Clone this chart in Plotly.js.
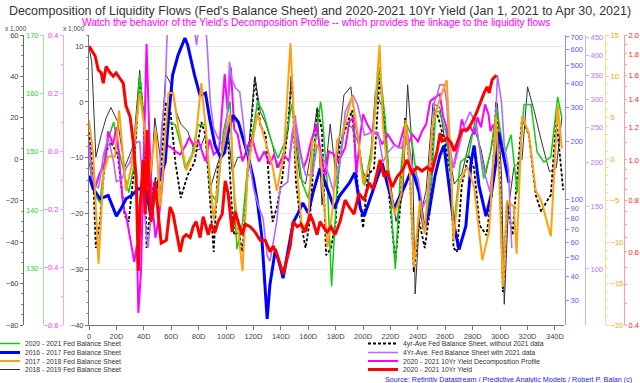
<!DOCTYPE html>
<html><head><meta charset="utf-8">
<script src="https://cdn.plot.ly/plotly-3.0.1.min.js"></script>
<style>html,body{margin:0;padding:0;background:#fff}#chart{width:640px;height:383px}</style>
</head><body><div id="chart"></div>
<script>
// ---------- tick labels ----------
const xTickVals = [0,20,40,60,80,100,120,140,160,180,200,220,240,260,280,300,320,340];
const xTickText = ['0','20D','40D','60D','80D','100D','120D','140D','160D','180D','200D','220D','240D','260D','280D','300D','320D','340D'];

// ---------- series: 2020-2021 Fed Balance Sheet (green axis) ----------
const greenDays = [0,4.5,8,12.5,18,21,26,29,32.5,37,41,45,48.6,52,58,63,67,70,75,79.5,85,88.5,93.5,98,103,105,108,112,116,123,127,134,138,143,148,151,155.5,160,165,169,170,174,177,181,187,192,197,201,206,212,216,219,223.5,227,231,235,239,245,250,253,255.5,260.5,264,266,271,277,282,288,293,297.5,303,308,312.5,317.5,322.5,327,332,337,342,345];
const greenVals = [148.2,142.5,141.3,151.1,155.1,151.1,146.0,143.0,147.2,163.3,152.9,137.8,142.0,143.0,155.1,154.6,151.1,147.2,149.4,154.6,154.6,143.0,141.3,153.4,158.6,146.0,133.3,137.8,148.2,158.6,156.9,151.1,148.9,151.7,158.1,152.9,144.7,142.0,151.7,158.6,156.9,144.2,126.9,144.2,155.1,154.1,151.1,144.2,150.3,164.5,155.8,146.0,129.9,145.4,155.1,152.9,146.0,136.8,145.0,156.9,156.9,153.4,146.0,136.8,148.2,149.4,155.8,145.4,149.9,157.5,149.4,152.9,143.0,158.1,158.1,149.9,148.2,149.1,159.4,155.8];

// ---------- series: 2016-2017 Fed Balance Sheet (blue log axis) ----------
const blueDays = [0,3,8,14,20,23.5,27,31,36,42,45,48,52,55.6,58,61,65,70,72,77,81,85,88,92,96,99,101.5,105,109,112,116,120,123,126,128.5,130,132,136,139.5,141.6,145,149,152.6,156,160,163.5,168.6,173.7,179,183,190,194,198,200.7,204,208.7,214,217.5,222.6,226,230.6,235.7,240.8,244.5,248,252.5,256,259,262.7,266.4,270,275,278.8,281,284.6,289.7,293.4,297,299,304,306.5];
const blueVals = [133,114,101,105,82,90,101,105,114,111,82,109,133,156,264,443,563,691,635,443,348,357,264,191,165,176,223,274,252,215,169,128,96,65,36,24,36,55,45,39,53,76,85,96,85,109,145,114,90,105,122,138,90,82,96,122,154,122,90,101,118,145,109,70,85,133,169,191,122,73,55,73,156,191,118,82,105,156,223,150,122];

// ---------- series: 2017-2018 Fed Balance Sheet (orange axis) ----------
const orangeDays = [0,3,7,10.5,14,19,22,25,27,31,37,41,43,48.6,52,58,61.5,65,71,77,82,85,91,96,103,106,112,116,123,127,134,137,142,147,150.5,155.5,160,163,168,170,174,178,181,185,192,196,200,206,212,214.5,219,223,228,231,234,237,241.5,245,250.5,255,261,264,266,270,276,281,287,292,297,299.5,302,305,310,312,316,321,326,330,337,342,345];
const orangeVals = [4.7,0.7,-12.6,-1.7,0.35,0.35,5.9,-0.1,-3.8,-0.9,8.0,3.1,-3.8,3.5,-5.7,8.0,8.0,4.0,-1.35,1.1,9.2,4.0,-7.4,-0.1,5.55,-4.1,-13.5,-0.9,5.55,3.1,-0.9,-3.8,0.35,14.0,1.1,-8.6,-7.4,2.3,1.3,-1.7,-10.6,-5.7,2.3,3.1,7.6,3.1,-2.9,-0.1,13.8,4.0,-2.9,-6.55,-4.1,4.7,-0.9,-13.0,-5.0,-9.0,4.0,6.8,9.55,-0.1,-9.8,-2.9,-0.9,-3.3,-12.2,-8.6,5.2,-2.9,-15.4,-5.0,-5.7,-11.4,5.2,3.1,-3.8,-5.0,-9.3,6.5,1.3];

// ---------- series: 2018-2019 Fed Balance Sheet (black left axis, x 1,000) ----------
const greyDays = [0,2,5,9,12.5,16,21,26,29,32.5,37,41,45,48,52,56,60,63.6,67,72,77,81,85,88.5,93,97,101,104.5,108.6,113,117,121,125,128.5,134,137,141,145.6,147.5,150,154,158,161.3,166.5,170,176,180,186,191,195,200,204,209,214,219,224,229,232.5,236,238,241,246,251,256,259,263,266.5,272,278,281,286,289.5,294,298,301,303,306,310,316,320,325,330,336,341,345];
const greyVals = [54,47,1,12,20,25,18,-4,1,7,43,12,-14,20,1,41,36,23,17,13.5,4,5,12,-14,-4,4,17,-6,1,1,9,40,23,18,7,-4,1,15,40,12,-9,-12,1,25,-22,17,-7,31,35,14.5,-6,-12,33,25,-7,-30,-17,36,4,-65,-30,-15,27,25,12,2,-12,-7,9.6,15,5,-7,7,27,-7,-70,-24,-4,0,35,23,9,-6,-4,20];

// ---------- series: 4yr-Ave Fed Balance Sheet, without 2021 data (main axis, x 1,000) ----------
const avgDays = [0,3,5,8,12,16,21,26,29,32.5,37,40,42,45.6,48.6,52,56,59.5,63,67,72,77,82,85,91,94,99,101,104,106,109,112,116,121,125,129,132,134,137,141,145,148,151,154.5,158,161,166.5,170,173,176.6,180,183,188,192,196,200,203.5,208,212,216,219,223.5,227,230.6,234,237,241,245,249,252,255,260,264,266,268.6,272,277,281,285,290,294,297,300,302,305,309,312.5,316,321,326,330,333.6,337,341,346];
const avgVals = [-5.4,-13.1,-26.2,-21.5,-9.0,-7.2,-9.5,-20.3,-21.5,-13.1,4.3,-2.9,-26.2,-16.7,-13.7,-14.4,0,-1.8,-10.8,-17.2,-13.1,-10.8,-3.6,-5.95,-26.9,-11.9,-7.7,-4.7,-18.0,-23.9,-23.3,-26.9,-11.9,4.4,-4.2,-5.95,-16.7,-21.5,-19.0,-13.7,-4.7,4.8,-14.4,-21.5,-26.2,-21.5,-1.1,-5.1,-27.5,-26.2,-21.5,-7.7,-4.2,-1.5,-14.9,-22.6,-13.1,-11.9,4.3,-3.6,-16.7,-28.7,-19.0,-2.9,-11.9,-30.5,-21.5,-26.2,-19.0,-1.1,-2.9,-7.7,-13.1,-26.2,-26.9,-14.9,-9.5,-11.9,-22.1,-23.9,-16.7,0,-14.9,-34.1,-18.0,-23.9,-13.1,-2.9,-5.95,-16.7,-19.7,-18.0,-16.7,-2.9,-15.8];

// ---------- series: 4Yr-Ave Fed Balance Sheet with 2021 data (purple log axis) ----------
const purpleDays = [0,2,4.5,7,10.5,14,18,20,24,27,30,34,37,41,43,45,48,51,53,55.5,57,58,60,65,70,74,77,78.5,80,85,86.5,88.5,91,94,98,101,102.5,104,107,110,112,114.5,117,120,124,127,130,132,134.5,137,139.5,145,148,150.5,152.5,158,163,166.5,172,175,178.5,183,187,192.5,196,201,206,211,214.5,218,223,228,232,236,240,243.5,248,252,254,256,259,261,263,266,271,274,278,282,285,289,292.5,296,298,301,303,306,308.5];
const purpleVals = [223,184,172,169,209,234,200,176,179,192,200,228,228,136,114.5,136,162,166,249,309,456,500,520,530,520,500,470,427,480,500,408,295,249,234,223,277,383,345,323,315,271,219,203,169,149,139,109,105,119,136,169,176,238,271,223,184,184,223,200,184,165,200,277,309,290,238,242,242,200,213,223,219,249,192,180,149,162,295,309,330,330,295,223,192,228,254,277,259,219,184,165,219,352,295,223,192,114.5];

// ---------- series: 2020-2021 10Yr Yield Decomposition Profile (magenta axis) ----------
const decompDays = [0,2,4.5,7.5,12,14,17.5,20,22.5,25,27,30,33,35,36,38,40,42,44,46,48.5,51,53,56,60,63,66.5,71,73,76,80,85,88,91,95,99,101,103.5,106,108.5,112,116,119,121.5,124,128,132,135,138,142,146,148.5,151,154,156.5,159,162,166,170,172.5,175,179,182,187,190,193,195,198,200,203,206,210.5,214,218,222.5,226,230,233,236,240,243,246,249,252.5,256,258.5,261,264,266,269,272,275,278.5,281,283.5,286,289,291.5,293,295];
const decompVals = [0.033,-0.081,-0.126,-0.081,-0.036,0.068,0.023,0.082,-0.057,-0.195,-0.219,-0.299,-0.382,-0.323,-0.558,-0.41,0.005,0.369,0.057,-0.174,-0.299,-0.23,-0.14,0.023,0.012,-0.001,-0.012,0.023,0.047,0.023,0.033,-0.036,0.04,-0.012,0.005,0.265,0.144,0.289,0.075,0.057,-0.036,0.012,0.047,-0.001,-0.036,-0.001,-0.046,-0.012,-0.057,-0.012,-0.036,0.057,0.092,-0.001,-0.057,-0.029,0.033,0.092,-0.036,-0.081,-0.001,-0.012,-0.036,0.012,0.102,0.116,-0.081,0.057,0.127,0.092,0.068,0.057,0.023,0.057,0.023,0.012,0.082,0.023,0.057,0.033,0.068,0.092,0.172,0.185,0.196,0.116,0.082,-0.036,-0.057,0.012,0.109,0.068,0.082,0.057,0.116,0.082,0.161,0.127,0.068,0.092];

// ---------- series: 2020-2021 10Yr Yield (red log axis) ----------
const yieldDays = [0,2,4.5,6.7,9,10.4,12.5,15.5,17.7,19.8,22.8,25,27,30,32.2,34.4,36,37.3,39.5,41,42.5,43.9,45.4,48.3,50.5,52,52.7,56.4,59.2,61.4,63.6,66.5,68.7,70.9,73.8,76,78.2,81.1,83.3,84.8,87,89,92,94.2,97.2,99.4,101.5,104.5,106.6,108.8,111.7,114,117.6,121.2,124.9,128.5,132.2,134.4,137.3,139.5,141.7,144.6,146.8,149,151.9,154.8,157.7,161.3,163.5,166.4,168.6,170.8,173.7,176.6,179.5,183.2,186.9,189.8,193.4,197,200.7,204.4,207.3,210.2,212.4,215.3,217.5,221.2,224.8,228.4,232.1,235.7,239.4,243,246.7,250.3,254,256.2,257.6,261.3,264.2,266.4,269.3,272.2,275.9,278.8,282.4,286.1,288.3,290.5,292,294.2,297.2];
const yieldVals = [1.88,1.84,1.78,1.65,1.62,1.53,1.68,1.62,1.59,1.62,1.57,1.53,1.35,1.27,1.11,0.91,0.54,0.77,1.00,0.74,1.18,0.85,0.71,0.89,0.74,0.66,0.63,0.64,0.77,0.74,0.67,0.60,0.65,0.66,0.65,0.69,0.71,0.65,0.73,0.70,0.66,0.70,0.67,0.71,0.74,0.89,0.83,0.67,0.75,0.71,0.66,0.70,0.69,0.67,0.64,0.64,0.60,0.62,0.59,0.56,0.53,0.58,0.62,0.71,0.69,0.70,0.67,0.74,0.71,0.66,0.71,0.69,0.67,0.69,0.66,0.71,0.80,0.77,0.74,0.83,0.80,0.88,0.85,0.93,1.00,0.91,0.94,0.86,0.91,0.94,1.00,0.93,0.96,0.94,0.96,0.94,1.05,1.16,1.11,1.13,1.10,1.05,1.11,1.18,1.18,1.22,1.29,1.39,1.45,1.50,1.45,1.56,1.60];

// ---------- axis tick lists ----------
const blueTicks = [30,40,50,60,70,80,90,100,200,300,400,500,600,700];
const purpleTicks = [100,150,200,250,300,350,400,450];
const redTicks = [0.4,0.6,0.8,1.0,1.2,1.4,1.6,1.8,2.0];
const redTickText = ['0.4','0.6','0.8','1.0','1.2','1.4','1.6','1.8','2.0'];
const greenTicks = [130,140,150,160,170];

const FONT = 'Liberation Sans, Arial, sans-serif';
const W = 640;

function tr(x, y, name, color, width, yaxis, legend, dash) {
  return {x: x, y: y, name: name, type: 'scatter', mode: 'lines', yaxis: yaxis,
    line: {color: color, width: width, dash: dash || 'solid'},
    legend: legend, hoverinfo: 'skip'};
}

const data = [
  tr(purpleDays, purpleVals, '4Yr-Ave. Fed Balance Sheet with 2021 data', '#b36bff', 1.6, 'y6', 'legend4'),
  tr(decompDays, decompVals, '2020 - 2021 10Yr Yield Decomposition Profile', '#ff00ff', 2, 'y4', 'legend6'),
  tr(greyDays, greyVals, '2018 - 2019 Fed Balance Sheet', '#333333', 1, 'y2', 'legend7'),
  tr(greenDays, greenVals, '2020 - 2021 Fed Balance Sheet', '#11cc11', 1.5, 'y3', 'legend'),
  tr(orangeDays, orangeVals, '2017 - 2018 Fed Balance Sheet', '#ffa010', 2, 'y7', 'legend5'),
  tr(avgDays, avgVals, '4yr-Ave Fed Balance Sheet, without 2021 data', '#000000', 1.8, 'y', 'legend2', '3px,2px'),
  tr(blueDays, blueVals, '2016 - 2017 Fed Balance Sheet', '#0000ff', 3, 'y5', 'legend3'),
  tr(yieldDays, yieldVals, '2020 - 2021 10Yr Yield', '#ff0000', 3, 'y8', 'legend8')
];

function freeAxis(pos, side, lineColor, fontColor, extra) {
  return Object.assign({
    overlaying: 'y', anchor: 'free', position: pos, side: side,
    showline: true, linecolor: lineColor, linewidth: 1,
    ticks: 'outside', ticklen: 3, tickcolor: lineColor,
    showgrid: false, zeroline: false,
    tickfont: {size: 7.5, color: fontColor, family: FONT}
  }, extra);
}

const ph = 290;
const rowY = py => (325 - py) / ph;
function legendBox(xpx, py) {
  return {orientation: 'v', x: xpx / W, xanchor: 'left', y: rowY(py), yanchor: 'middle',
    bgcolor: 'rgba(0,0,0,0)', borderwidth: 0,
    font: {size: 6.8, color: '#333', family: FONT}, itemwidth: 30, tracegroupgap: 0};
}
const leftX = -15, rightX = 363;

const layout = {
  width: 640, height: 383,
  margin: {l: 0, r: 0, t: 35, b: 58, autoexpand: false},
  paper_bgcolor: '#fff', plot_bgcolor: '#fff',
  font: {family: FONT, color: '#333'},
  title: {text: "Decomposition of Liquidity Flows (Fed's Balance Sheet) and 2020-2021 10Yr Yield (Jan 1, 2021 to Apr 30, 2021)",
    font: {size: 12.5, color: '#333', family: FONT}, x: 0.5, xanchor: 'center', y: 1 - 11/383, yanchor: 'middle'},
  xaxis: {domain: [89/W, 564/W], range: [0, 346.6], tickvals: xTickVals, ticktext: xTickText,
    ticks: 'outside', ticklen: 4, tickcolor: '#777', showline: true, linecolor: '#777',
    showgrid: false, zeroline: false, tickfont: {size: 7.5, color: '#444', family: FONT}},
  yaxis: {range: [-40, 12], tickvals: [-40,-30,-20,-10,0,10], showline: true, linecolor: '#777',
    ticks: 'outside', ticklen: 3, tickcolor: '#777', showgrid: true, gridcolor: '#e8e8e8',
    zeroline: false, tickfont: {size: 7.5, color: '#444', family: FONT},
    minor: {dtick: 2, ticks: 'outside', ticklen: 2, tickcolor: '#999', showgrid: false}},
  yaxis2: freeAxis(23/W, 'left', '#666', '#444', {range: [-80, 60], dtick: 20,
    minor: {dtick: 5, ticks: 'outside', ticklen: 2, tickcolor: '#888', showgrid: false}}),
  yaxis3: freeAxis(43/W, 'left', '#9be89b', '#33cc33', {range: [120.3, 170], tickvals: greenTicks}),
  yaxis4: freeAxis(63/W, 'left', '#f2a6f2', '#ff33ff', {range: [-0.6, 0.4], dtick: 0.2, tickformat: '.1f',
    minor: {dtick: 0.1, ticks: 'outside', ticklen: 2, tickcolor: '#f2a6f2', showgrid: false}}),
  yaxis5: freeAxis(565/W, 'right', '#8c8cff', '#5a5aff', {type: 'log', range: [Math.log10(22.3), Math.log10(716)], tickvals: blueTicks}),
  yaxis6: freeAxis(585/W, 'right', '#d6adff', '#b377ff', {type: 'log', range: [Math.log10(69.5), Math.log10(456)], tickvals: purpleTicks}),
  yaxis7: freeAxis(605/W, 'right', '#ffd699', '#ffa010', {range: [-20, 15], dtick: 5,
    minor: {dtick: 1, ticks: 'outside', ticklen: 2, tickcolor: '#ffd699', showgrid: false}}),
  yaxis8: freeAxis(624/W, 'right', '#ff9c9c', '#ff2020', {type: 'log', range: [Math.log10(0.4), Math.log10(2.0)], tickvals: redTicks, ticktext: redTickText, ticklen: 2,
    minor: {tickvals: [0.45,0.5,0.55,0.65,0.7,0.75,0.85,0.9,0.95,1.1,1.3,1.5,1.7,1.9], ticks: 'outside', ticklen: 2, tickcolor: '#ff9c9c', showgrid: false}}),
  legend: legendBox(leftX, 343.5),
  legend2: legendBox(rightX, 343.5),
  legend3: legendBox(leftX, 352.5),
  legend4: legendBox(rightX, 352.5),
  legend5: legendBox(leftX, 361),
  legend6: legendBox(rightX, 361),
  legend7: legendBox(leftX, 369.5),
  legend8: legendBox(rightX, 369.5),
  showlegend: true,
  annotations: [
    {text: "Watch the behavior of the Yield's Decomposition Profile -- which provides the linkage to the liquidity flows",
      xref: 'paper', yref: 'paper', x: 316/W, y: (325 - 23)/ph, xanchor: 'center', yanchor: 'middle',
      showarrow: false, font: {size: 10.1, color: '#ff00ff', family: FONT}},
    {text: 'x 1,000', xref: 'paper', yref: 'paper', x: 3/W, y: (325 - 28)/ph, xanchor: 'left', yanchor: 'middle',
      showarrow: false, font: {size: 6.5, color: '#444', family: FONT}},
    {text: 'x 1,000', xref: 'paper', yref: 'paper', x: 61/W, y: (325 - 28)/ph, xanchor: 'left', yanchor: 'middle',
      showarrow: false, font: {size: 6.5, color: '#444', family: FONT}},
    {text: 'Source: Refinitiv Datastream / Predictive Analytic Models / Robert P. Balan (c)', xref: 'paper', yref: 'paper',
      x: 634/W, y: (325 - 379)/ph, xanchor: 'right', yanchor: 'middle',
      showarrow: false, font: {size: 7.2, color: '#2222ff', family: FONT}}
  ]
};

Plotly.newPlot('chart', data, layout, {displayModeBar: false, staticPlot: true});
</script>
</body></html>
